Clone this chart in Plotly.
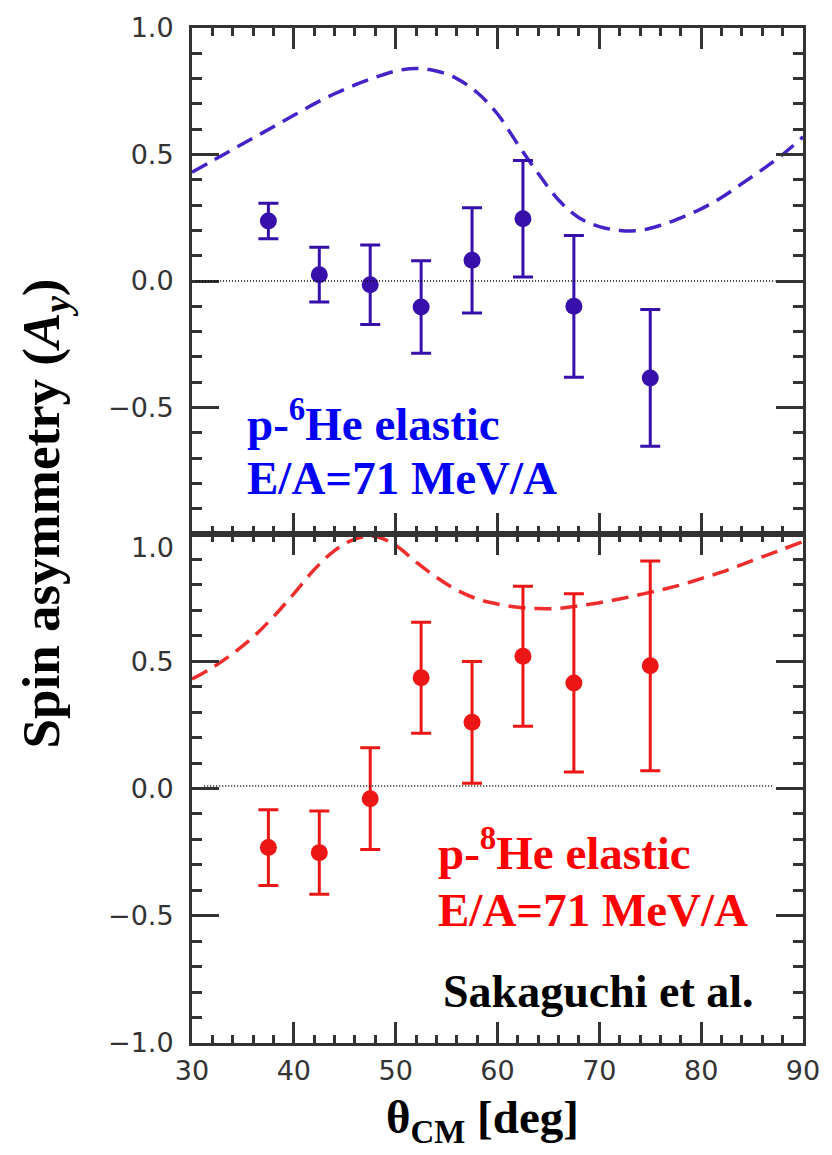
import plotly.graph_objects as go

# Measured analysing powers, p + 6He and p + 8He elastic at 71 MeV/A
theta_cm = [37.5, 42.5, 47.5, 52.5, 57.5, 62.5, 67.5, 75.0]
ay_he6 = [0.237, 0.025, -0.015, -0.103, 0.082, 0.246, -0.10, -0.383]
err_he6 = [0.07, 0.108, 0.157, 0.183, 0.208, 0.23, 0.28, 0.27]
ay_he8 = [-0.232, -0.252, -0.04, 0.435, 0.26, 0.52, 0.415, 0.482]
err_he8 = [0.149, 0.164, 0.2, 0.218, 0.239, 0.275, 0.35, 0.412]

# Calculated curves
curve_theta = [30, 32, 34, 36, 38, 40, 42, 44, 46, 48, 50, 52, 54, 56, 58, 60,
               62, 64, 66, 68, 70, 72, 74, 76, 78, 80, 82, 84, 86, 88, 90]
curve_he6 = [0.43, 0.475, 0.52, 0.565, 0.61, 0.655, 0.70, 0.74, 0.775, 0.805, 0.83,
             0.84, 0.83, 0.80, 0.745, 0.66, 0.54, 0.425, 0.32, 0.25, 0.215, 0.20,
             0.20, 0.22, 0.25, 0.285, 0.33, 0.385, 0.44, 0.50, 0.57]
curve_he8 = [0.43, 0.475, 0.53, 0.595, 0.675, 0.765, 0.86, 0.935, 0.98, 0.99, 0.955,
             0.89, 0.83, 0.78, 0.745, 0.725, 0.712, 0.707, 0.708, 0.718, 0.73, 0.745,
             0.762, 0.78, 0.80, 0.825, 0.85, 0.88, 0.91, 0.94, 0.97]

x_ticks = [30, 40, 50, 60, 70, 80, 90]
top_y_ticks = [1.0, 0.5, 0.0, -0.5]
bottom_y_ticks = [0.5, 0.0, -0.5, -1.0]

INDIGO = "rgb(55,15,170)"
INDIGO_LINE = "rgb(70,35,200)"
RED = "rgb(236,22,22)"
RED_LINE = "rgb(240,45,45)"
AXIS = "#333333"

W, H = 832, 1155
PL, PR, PT, PB = 192, 808, 18, 1043
SPLIT = (PB - 529) / (PB - PT)


def fx(px):
    return (px - PL) / (PR - PL)


def fy(py):
    return (PB - py) / (PB - PT)


def fmt(v):
    return f"{v:.1f}".replace("-", "\u2212")


fig = go.Figure()

# top panel: 6He
fig.add_trace(go.Scatter(x=curve_theta, y=curve_he6, mode="lines", line_shape="spline",
                         line=dict(color=INDIGO_LINE, width=3.5, dash="17px,9px"),
                         xaxis="x2", yaxis="y", showlegend=False))
fig.add_trace(go.Scatter(x=theta_cm, y=ay_he6, mode="markers",
                         marker=dict(color=INDIGO, size=17),
                         error_y=dict(type="data", array=err_he6, color=INDIGO,
                                      thickness=3, width=10),
                         xaxis="x2", yaxis="y", showlegend=False))

# bottom panel: 8He
fig.add_trace(go.Scatter(x=curve_theta, y=curve_he8, mode="lines", line_shape="spline",
                         line=dict(color=RED_LINE, width=3.5, dash="17px,9px"),
                         xaxis="x", yaxis="y2", showlegend=False))
fig.add_trace(go.Scatter(x=theta_cm, y=ay_he8, mode="markers",
                         marker=dict(color=RED, size=17),
                         error_y=dict(type="data", array=err_he8, color=RED,
                                      thickness=3, width=10),
                         xaxis="x", yaxis="y2", showlegend=False))

# dotted zero lines
fig.add_shape(type="line", xref="x2", yref="y", x0=30.4, x1=87.3, y0=0.0, y1=0.0,
              line=dict(color="black", width=1.5, dash="1px,2px"))
fig.add_shape(type="line", xref="x", yref="y2", x0=31.2, x1=87.0, y0=0.01, y1=0.01,
              line=dict(color="black", width=1.5, dash="1px,2px"))

tick_font = dict(family="DejaVu Sans", size=27, color=AXIS)
y_minor = [round(-1 + 0.1 * i, 1) for i in range(21)]
y_minor = [v for v in y_minor if abs(v * 2 - round(v * 2)) > 1e-9]

common_x = dict(range=[30, 90], showgrid=False, zeroline=False, showline=True,
                linecolor=AXIS, linewidth=3, mirror="allticks", ticks="inside",
                ticklen=21, tickwidth=3, tickcolor=AXIS, tickmode="array",
                tickvals=x_ticks,
                minor=dict(tickmode="linear", tick0=30, dtick=2, ticks="inside",
                           ticklen=8, tickwidth=2.5, tickcolor=AXIS))
common_y = dict(range=[-1, 1], showgrid=False, zeroline=False, showline=True,
                linecolor=AXIS, linewidth=3, mirror="allticks", ticks="inside",
                ticklen=27, tickwidth=3, tickcolor=AXIS, tickmode="array",
                tickfont=tick_font, ticklabelstandoff=10,
                minor=dict(tickmode="array", tickvals=y_minor, ticks="inside",
                           ticklen=10, tickwidth=2.5, tickcolor=AXIS))

fig.update_layout(
    width=W, height=H,
    margin=dict(l=PL, r=W - PR, t=PT, b=H - PB),
    paper_bgcolor="white", plot_bgcolor="white",
    xaxis=dict(**common_x, anchor="y2", domain=[0, 1], tickfont=tick_font,
               ticktext=[str(v) for v in x_ticks], ticklabelstandoff=2),
    xaxis2=dict(**common_x, anchor="y", domain=[0, 1], matches="x",
                showticklabels=False),
    yaxis=dict(**common_y, anchor="x2", domain=[SPLIT, 1],
               tickvals=top_y_ticks, ticktext=[fmt(v) for v in top_y_ticks]),
    yaxis2=dict(**common_y, anchor="x", domain=[0, SPLIT],
                tickvals=bottom_y_ticks, ticktext=[fmt(v) for v in bottom_y_ticks]),
)

serif = "Liberation Serif, Times New Roman, Times, serif"
ann = []
# top label of the lower panel's y scale, set just below the shared edge
ann.append(dict(text="1.0", xref="paper", yref="paper", x=fx(176), y=fy(543),
                xanchor="right", yanchor="middle", showarrow=False, font=tick_font))


def text_line(txt, left, baseline, size, color):
    return dict(text=f"<b>{txt}</b>", xref="paper", yref="paper", x=fx(left),
                y=fy(baseline + 0.216 * size), xanchor="left", yanchor="bottom",
                showarrow=False, borderpad=0,
                font=dict(family=serif, size=size, color=color))


ann.append(text_line("p-<sup>6</sup>He elastic", 246, 435, 47, "rgb(0,0,245)"))
ann.append(text_line("E/A=71 MeV/A", 246, 490, 47, "rgb(0,0,245)"))
ann.append(text_line("p-<sup>8</sup>He elastic", 439, 868, 47, "rgb(255,0,0)"))
ann.append(text_line("E/A=71 MeV/A", 439, 926, 47, "rgb(255,0,0)"))
ann.append(text_line("Sakaguchi et al.", 444, 1008, 46, "black"))

# axis titles
ann.append(dict(text="<b>Spin asymmetry (<i>A<sub>y</sub></i>)</b>", xref="paper",
                yref="paper", x=fx(44), y=fy(508), xanchor="center", yanchor="middle",
                textangle=-90, showarrow=False,
                font=dict(family=serif, size=53, color="black")))
ann.append(dict(text="<b>\u03b8<sub>CM</sub> [deg]</b>", xref="paper", yref="paper",
                x=fx(485), y=fy(1152), xanchor="center", yanchor="bottom",
                showarrow=False, borderpad=0,
                font=dict(family=serif, size=47, color="black")))
fig.update_layout(annotations=ann)

fig.write_html("out.html")
